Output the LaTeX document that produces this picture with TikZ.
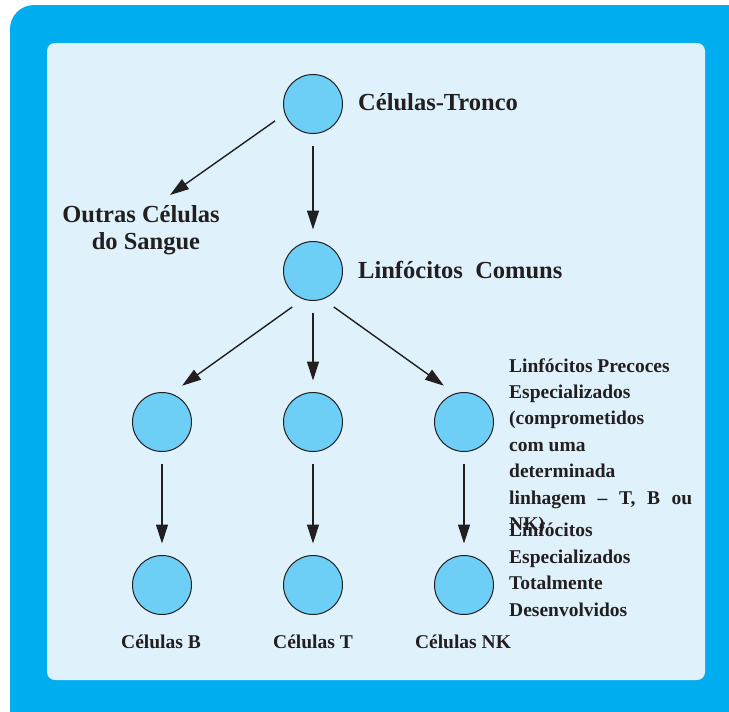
\documentclass[tikz,border=0pt]{standalone}
\usepackage{fontspec}
\setmainfont{Liberation Serif}
\usetikzlibrary{arrows.meta}
\definecolor{outerblue}{RGB}{0,174,239}
\definecolor{innerbg}{RGB}{223,241,251}
\definecolor{cellfill}{RGB}{109,207,246}
\definecolor{ink}{RGB}{35,31,32}
\begin{document}
\begin{tikzpicture}[x=1pt,y=-1pt,
  cell/.style={circle, minimum size=59pt, inner sep=0pt, draw=ink, line width=1pt, fill=cellfill, outer sep=12pt},
  arr/.style={-{Triangle[length=19pt,width=12pt]}, line width=1.4pt, draw=ink},
  big/.style={font=\fontsize{24.5}{29}\selectfont\bfseries, text=ink, inner sep=0pt, anchor=base west},
  small/.style={font=\fontsize{19.5}{26}\selectfont\bfseries, text=ink, inner sep=0pt, anchor=base west},
]
\clip (0,0) rectangle (729,712);
\fill[white] (0,0) rectangle (729,712);
\fill[outerblue, rounded corners=24pt] (10,5) rectangle (780,760);
\fill[innerbg, rounded corners=8pt] (47,43) rectangle (705,680);

% cells
\node[cell] (top) at (313,104) {};
\node[cell] (mid) at (313,271) {};
\node[cell] (pb) at (162,422) {};
\node[cell] (pt) at (313,422) {};
\node[cell] (pn) at (464,422) {};
\node[cell] (fb) at (162,585) {};
\node[cell] (ft) at (313,585) {};
\node[cell] (fn) at (464,585) {};

% labels
\node[big] (lt) at (358,110) {Células-Tronco};
\node[big] (lm) at (358,278) {Linfócitos\ \ Comuns};
\node[big, anchor=base] (lo1) at (141,222) {Outras\ Células};
\node[big, anchor=base] (lo2) at (146,249) {do Sangue};
\coordinate (oc) at (170,195);

\node[small] (r1) at (509,372) {Linfócitos\ Precoces};
\node[small] (r2) at (509,398.3) {Especializados};
\node[small] (r3) at (509,424.5) {(comprometidos};
\node[small] (r4) at (509,451) {com uma};
\node[small] (r5) at (509,477.3) {determinada};
\node[small] (r6) at (509,504) {\makebox[183pt][s]{linhagem – T, B ou}};
\node[small] (r7) at (509,530) {NK)};
\node[small] (s1) at (509,536.5) {Linfócitos};
\node[small] (s2) at (509,563) {Especializados};
\node[small] (s3) at (509,589.5) {Totalmente};
\node[small] (s4) at (509,616) {Desenvolvidos};

\node[small, anchor=base] (cb) at (161,648) {Células B};
\node[small, anchor=base] (ctl) at (313,648) {Células T};
\node[small, anchor=base] (cn) at (463,648) {Células NK};

% arrows
\draw[arr] (top.204) -- (oc);
\draw[arr] (top.south) -- (mid.north);
\draw[arr] (mid.240) -- (pb.61);
\draw[arr] (mid.south) -- (pt.north);
\draw[arr] (mid.300) -- (pn.119);
\draw[arr] (pb.south) -- (fb.north);
\draw[arr] (pt.south) -- (ft.north);
\draw[arr] (pn.south) -- (fn.north);
\end{tikzpicture}
\end{document}
